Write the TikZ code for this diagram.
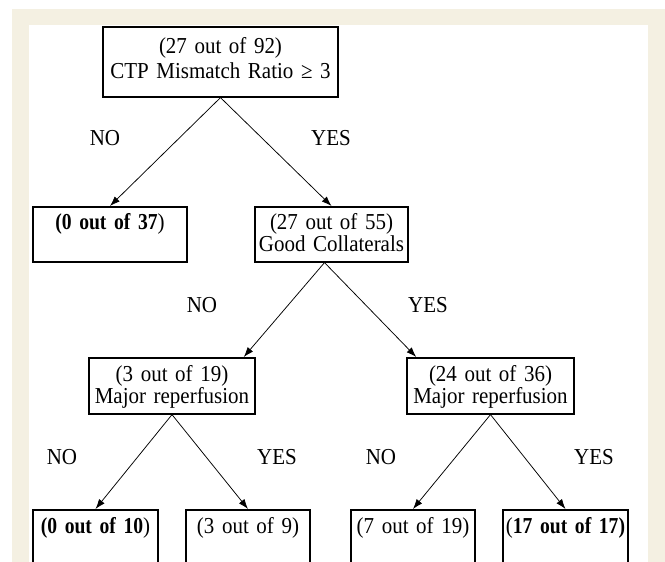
\documentclass[tikz,border=0pt]{standalone}
\usepackage{fontspec}
\setmainfont{Liberation Serif}[FakeStretch=0.92,BoldFeatures={FakeStretch=0.86}]
\usepackage{xcolor}
\usetikzlibrary{positioning,arrows.meta}
\definecolor{cream}{RGB}{244,240,226}

\begin{document}
\begin{tikzpicture}[x=1pt,y=-1pt,>={Latex[length=10pt,width=7pt]},
  font=\fontsize{22.8}{22}\selectfont,
  box/.style={draw,line width=1.6pt,inner sep=0pt,anchor=north,align=center,
    text width=#1,text height=23pt,text depth=32pt},
  leaf/.style={box=#1,text height=24pt,text depth=60pt},
  lbl/.style={inner sep=0pt},
  arr/.style={->,line width=0.75pt}]
\useasboundingbox (0,0) rectangle (665,562);
\clip (0,0) rectangle (665,562);
\fill[cream] (12,9) rectangle (665,570);
\fill[white] (29,25) rectangle (648,570);

\node[box=235pt,text height=27pt,text depth=43pt,font=\fontsize{22.8}{24.5}\selectfont]
  (root) at (220.5,26) {(27 out of 92)\\CTP Mismatch Ratio ≥ 3};
\node[box=154pt] (n37) at (110,206) {\textbf{(0 out of 37})};
\node[box=153pt] (coll) at (331.5,206) {(27 out of 55)\\Good Collaterals};
\node[box=166pt,text height=24pt,text depth=32pt] (majl) at (172,357) {(3 out of 19)\\Major reperfusion};
\node[box=167pt,text height=24pt,text depth=32pt] (majr) at (490.5,357) {(24 out of 36)\\Major reperfusion};
\node[leaf=125pt] (l1) at (95.5,509) {\textbf{(0 out of 10})};
\node[leaf=124pt] (l2) at (248,509) {(3 out of 9)};
\node[leaf=124pt] (l3) at (413,509) {(7 out of 19)};
\node[leaf=125pt] (l4) at (565.5,509) {\mbox{(\textbf{17 out of 17)}}};

\node[lbl] (no1) at (105,138) {NO};
\node[lbl] (yes1) at (331,138) {YES};
\node[lbl] (no2) at (202,305) {NO};
\node[lbl] (yes2) at (428,305) {YES};
\node[lbl] (no3) at (62,457) {NO};
\node[lbl] (yes3) at (277,457) {YES};
\node[lbl] (no4) at (381,457) {NO};
\node[lbl] (yes4) at (594,457) {YES};

\draw[arr] (root.south) -- (n37.north);
\draw[arr] (root.south) -- (coll.north);
\draw[arr] ([xshift=-7pt]coll.south) -- ([xshift=-12pt]majl.north east);
\draw[arr] ([xshift=-7pt]coll.south) -- ([xshift=10pt]majr.north west);
\draw[arr] (majl.south) -- (l1.north);
\draw[arr] (majl.south) -- (l2.north);
\draw[arr] (majr.south) -- (l3.north);
\draw[arr] (majr.south) -- (l4.north);
\end{tikzpicture}
\end{document}
